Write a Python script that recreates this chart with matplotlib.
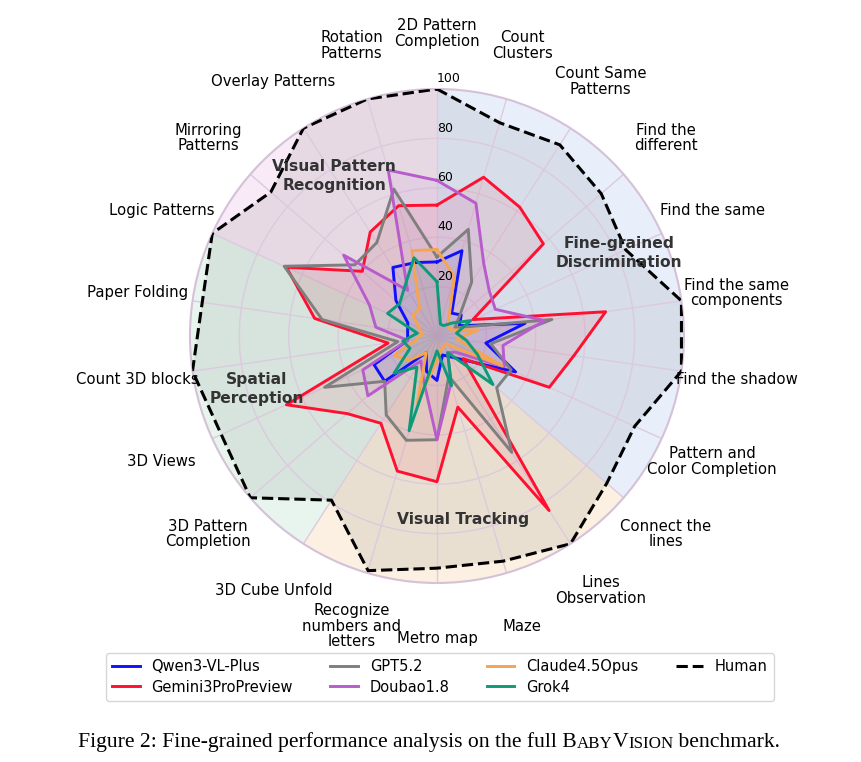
import numpy as np
import matplotlib
matplotlib.use("Agg")
import matplotlib.pyplot as plt
from matplotlib.lines import Line2D

categories = [
    "2D Pattern\nCompletion", "Count\nClusters", "Count Same\nPatterns",
    "Find the\ndifferent", "Find the same", "Find the same\ncomponents",
    "Find the shadow", "Pattern and\nColor Completion", "Connect the\nlines",
    "Lines\nObservation", "Maze", "Metro map",
    "Recognize\nnumbers and\nletters", "3D Cube Unfold", "3D Pattern\nCompletion",
    "3D Views", "Count 3D blocks", "Paper Folding", "Logic Patterns",
    "Mirroring\nPatterns", "Overlay Patterns", "Rotation\nPatterns",
]

qwen = [30, 36, 11, 13, 10, 36, 20, 35, 15, 10, 8, 18, 15, 8, 28, 28, 12, 12, 13, 22, 33, 31]
gemini = [53, 67, 62, 57, 16, 69, 56, 50, 14, 84, 30, 59, 57, 42, 48, 67, 20, 50, 67, 40, 50, 55]
gpt = [32, 45, 26, 12, 8, 47, 22, 33, 32, 56, 17, 42, 44, 38, 28, 50, 16, 47, 68, 44, 45, 62]
doubao = [63, 56, 35, 28, 26, 44, 27, 30, 10, 8, 20, 42, 19, 12, 37, 33, 12, 25, 30, 50, 22, 70]
claude = [35, 25, 9, 6, 6, 17, 8, 29, 5, 5, 6, 10, 28, 8, 15, 19, 8, 6, 8, 13, 13, 36]
grok = [22, 5, 5, 8, 15, 8, 12, 18, 30, 8, 21, 6, 40, 15, 23, 12, 14, 8, 22, 20, 24, 33]
human = [100, 90, 92, 88, 84, 100, 100, 88, 91, 100, 95, 94, 99, 79, 100, 96, 100, 96, 100, 89, 100, 100]

series = [
    ("Qwen3-VL-Plus", qwen, "#1010ff"),
    ("Gemini3ProPreview", gemini, "#ff1030"),
    ("GPT5.2", gpt, "#7f7f7f"),
    ("Doubao1.8", doubao, "#b85ccc"),
    ("Claude4.5Opus", claude, "#f5a552"),
    ("Grok4", grok, "#0e9a78"),
]

# groups: name, first spoke index, last spoke index, colour
groups = [
    ("Fine-grained\nDiscrimination", 0, 8, "#e8effb"),
    ("Visual Tracking", 8, 13, "#fbf0e1"),
    ("Spatial\nPerception", 13, 18, "#e8f5ee"),
    ("Visual Pattern\nRecognition", 18, 22, "#f8eaf6"),
]
group_label_r = [81, 75, 76, 77]

n = len(categories)
step = 2 * np.pi / n
angles = np.arange(n) * step
closed = np.append(angles, angles[0])

fig = plt.figure(figsize=(8.61, 7.62), dpi=100)
ax = fig.add_axes([0.2206, 0.2349, 0.5738, 0.6483], projection="polar")
ax.set_theta_zero_location("N")
ax.set_theta_direction(-1)
ax.set_ylim(0, 100)

for (name, a, b, col), rr in zip(groups, group_label_r):
    ax.bar(a * step, 100, width=(b - a) * step, bottom=0, align="edge",
           color=col, lw=0, zorder=0.3)
    mid = (a + b) / 2 * step
    ax.text(mid, rr, name, ha="center", va="center", fontsize=11.2,
            fontweight="bold", color="#333333", zorder=6, linespacing=1.3)

ax.fill(closed, human + human[:1], color="black", alpha=0.07, lw=0, zorder=0.4)

for label, vals, col in series:
    v = vals + vals[:1]
    ax.fill(closed, v, color=col, alpha=0.08, lw=0, zorder=2)
    ax.plot(closed, v, color=col, lw=2.1, zorder=3)
ax.plot(closed, human + human[:1], color="black", lw=2.2, ls="--", zorder=4)

ax.set_xticks(angles)
ax.set_xticklabels([])
ax.set_yticks([20, 40, 60, 80, 100])
ax.set_yticklabels([])
ax.grid(color="#dccadd", lw=1.0)
ax.spines["polar"].set_color("#d6c2d8")
ax.spines["polar"].set_linewidth(1.5)

for r in [20, 40, 60, 80, 100]:
    ax.text(0, r + 1.5, str(r), ha="left", va="bottom", fontsize=9, zorder=6)

for ang, cat in zip(angles, categories):
    ax.text(ang, 122.5, cat, ha="center", va="center", fontsize=10.7,
            linespacing=1.05)

handles = [Line2D([], [], color=c, lw=2.1) for _, _, c in series]
handles.append(Line2D([], [], color="black", lw=2.2, ls="--"))
labels = [s[0] for s in series] + ["Human"]
fig.legend(handles, labels, loc="center", bbox_to_anchor=(0.511, 0.1115),
           ncol=4, fontsize=10.5, handlelength=1.9, columnspacing=2.55,
           labelspacing=0.35, borderpad=0.45)

# caption with small caps for the benchmark name
cap_font = dict(family="Liberation Serif", color="black")
big, small = 15.6, 12.2
t = fig.text(0.0906, 0.013, "Figure 2: Fine-grained performance analysis on the full B",
             fontsize=big, ha="left", va="bottom", **cap_font)
pieces = [("ABY", small), ("V", big), ("ISION", small), (" benchmark.", big)]
for s, sz in pieces:
    t = ax.annotate(s, xy=(1, 0), xycoords=t, ha="left", va="bottom",
                    fontsize=sz, annotation_clip=False, **cap_font)

fig.savefig("out.png", dpi=100)
